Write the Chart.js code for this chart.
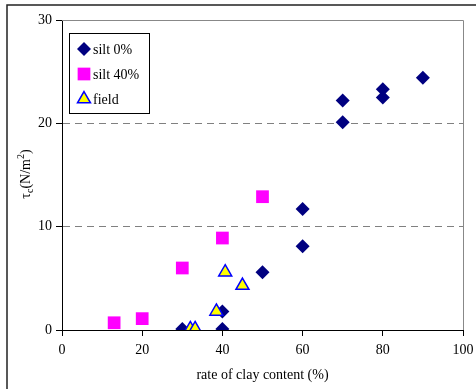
<!DOCTYPE html>
<html>
<head>
<meta charset="utf-8">
<script src="https://cdn.jsdelivr.net/npm/chart.js@4"></script>
<style>
  body { margin: 0; background: #fff; }
  canvas { display: block; }
</style>
</head>
<body>
<canvas id="myChart" width="476" height="389"></canvas>
<script>
// values
const silt0X  = [30, 40, 40, 50, 60, 60, 70, 70, 80, 80, 90];
const silt0Y  = [0.1, 0.1, 1.8, 5.6, 8.1, 11.7, 20.1, 22.2, 22.5, 23.3, 24.4];
const silt40X = [13, 20, 30, 40, 50];
const silt40Y = [0.7, 1.1, 6.0, 8.9, 12.9];
const fieldX  = [32, 33.2, 38.5, 40.7, 45];
const fieldY  = [0.1, 0.1, 1.8, 5.6, 4.3];
const seriesNames = ['silt 0%', 'silt 40%', 'field'];
const xTicks = [0, 20, 40, 60, 80, 100];
const yTicks = [0, 10, 20, 30];

const FONT = 'Liberation Serif';

function pts(xs, ys) {
    return xs.map((x, i) => ({ x: x, y: ys[i] }));
}

// frame, y title, legend box
const extras = {
    id: 'extras',
    afterDraw(chart) {
        const ctx = chart.ctx;
        const area = chart.chartArea;
        ctx.save();

        // outer frame
        ctx.strokeStyle = '#222';
        ctx.lineWidth = 1.5;
        ctx.strokeRect(7, 5, 600, 600);

        // plot border top + right
        ctx.strokeStyle = '#888';
        ctx.lineWidth = 1;
        ctx.beginPath();
        ctx.moveTo(area.left, area.top + 0.5);
        ctx.lineTo(area.right + 0.5, area.top + 0.5);
        ctx.lineTo(area.right + 0.5, area.bottom);
        ctx.stroke();

        // y title: tau_c (N/m^2)
        ctx.translate(25, 174);
        ctx.rotate(-Math.PI / 2);
        ctx.fillStyle = '#000';
        ctx.textBaseline = 'alphabetic';
        const parts = [
            { t: 'τ', size: 14, dy: 0 },
            { t: 'c', size: 10, dy: 3 },
            { t: '(N/m', size: 14, dy: 0 },
            { t: '2', size: 10, dy: -6 },
            { t: ')', size: 14, dy: 0 }
        ];
        let total = 0;
        parts.forEach(p => { ctx.font = p.size + 'px ' + FONT; p.w = ctx.measureText(p.t).width; total += p.w; });
        let cx = -total / 2;
        parts.forEach(p => {
            ctx.font = p.size + 'px ' + FONT;
            ctx.fillText(p.t, cx, 5 + p.dy);
            cx += p.w;
        });
        ctx.setTransform(1, 0, 0, 1, 0, 0);

        // legend
        ctx.fillStyle = '#fff';
        ctx.fillRect(69.5, 33.5, 80, 80);
        ctx.strokeStyle = '#000';
        ctx.lineWidth = 1;
        ctx.strokeRect(69.5, 33.5, 80, 80);
        const rows = [49, 74, 99];
        chart.data.datasets.forEach((ds, i) => {
            ctx.fillStyle = ds.backgroundColor;
            ctx.strokeStyle = ds.borderColor;
            ctx.lineWidth = ds.borderWidth;
            Chart.helpers.drawPoint(ctx, {
                pointStyle: ds.pointStyle,
                radius: ds.pointRadius,
                rotation: 0,
                borderWidth: ds.borderWidth
            }, 84, rows[i]);
            ctx.fillStyle = '#000';
            ctx.font = '14px ' + FONT;
            ctx.textBaseline = 'middle';
            ctx.fillText(ds.label, 93, rows[i] + 1);
        });
        ctx.restore();
    }
};

const ctx = document.getElementById('myChart').getContext('2d');
const myChart = new Chart(ctx, {
    type: 'scatter',
    data: {
        datasets: [{
            label: seriesNames[0],
            data: pts(silt0X, silt0Y),
            pointStyle: 'rectRot',
            pointRadius: 7,
            backgroundColor: '#000080',
            borderColor: '#000080',
            borderWidth: 0,
            order: 3
        }, {
            label: seriesNames[1],
            data: pts(silt40X, silt40Y),
            pointStyle: 'rect',
            pointRadius: 9,
            backgroundColor: '#ff00ff',
            borderColor: '#ff00ff',
            borderWidth: 0,
            order: 2
        }, {
            label: seriesNames[2],
            data: pts(fieldX, fieldY),
            pointStyle: 'triangle',
            pointRadius: 7.5,
            backgroundColor: '#ffff00',
            borderColor: '#0000ff',
            borderWidth: 1.5,
            order: 1
        }]
    },
    options: {
        responsive: false,
        animation: false,
        layout: { padding: { top: 20, right: 13, left: 0, bottom: 0 } },
        plugins: {
            legend: { display: false },
            tooltip: { enabled: false }
        },
        scales: {
            x: {
                type: 'linear',
                min: 0,
                max: 100,
                afterFit: s => { s.height = 59; s.paddingLeft = 0; s.paddingRight = 0; },
                afterBuildTicks: s => { s.ticks = xTicks.map(v => ({ value: v })); },
                grid: { drawOnChartArea: false, tickLength: 6, tickColor: '#000' },
                border: { color: '#000', width: 1 },
                ticks: { color: '#000', padding: 6, font: { family: FONT, size: 14 } },
                title: {
                    display: true,
                    text: 'rate of clay content (%)',
                    color: '#000',
                    font: { family: FONT, size: 14 },
                    padding: { top: 0, bottom: 5 }
                }
            },
            y: {
                min: 0,
                max: 30,
                afterFit: s => { s.width = 62; s.paddingTop = 0; s.paddingBottom = 0; },
                afterBuildTicks: s => { s.ticks = yTicks.map(v => ({ value: v })); },
                grid: {
                    color: c => (c.tick && (c.tick.value === 10 || c.tick.value === 20)) ? '#808080' : 'rgba(0,0,0,0)',
                    lineWidth: 1,
                    tickLength: 6,
                    tickColor: '#000'
                },
                border: { color: '#000', width: 1, dash: [7, 5] },
                ticks: { color: '#000', padding: 4, font: { family: FONT, size: 14 } }
            }
        }
    },
    plugins: [extras]
});
</script>
</body>
</html>
